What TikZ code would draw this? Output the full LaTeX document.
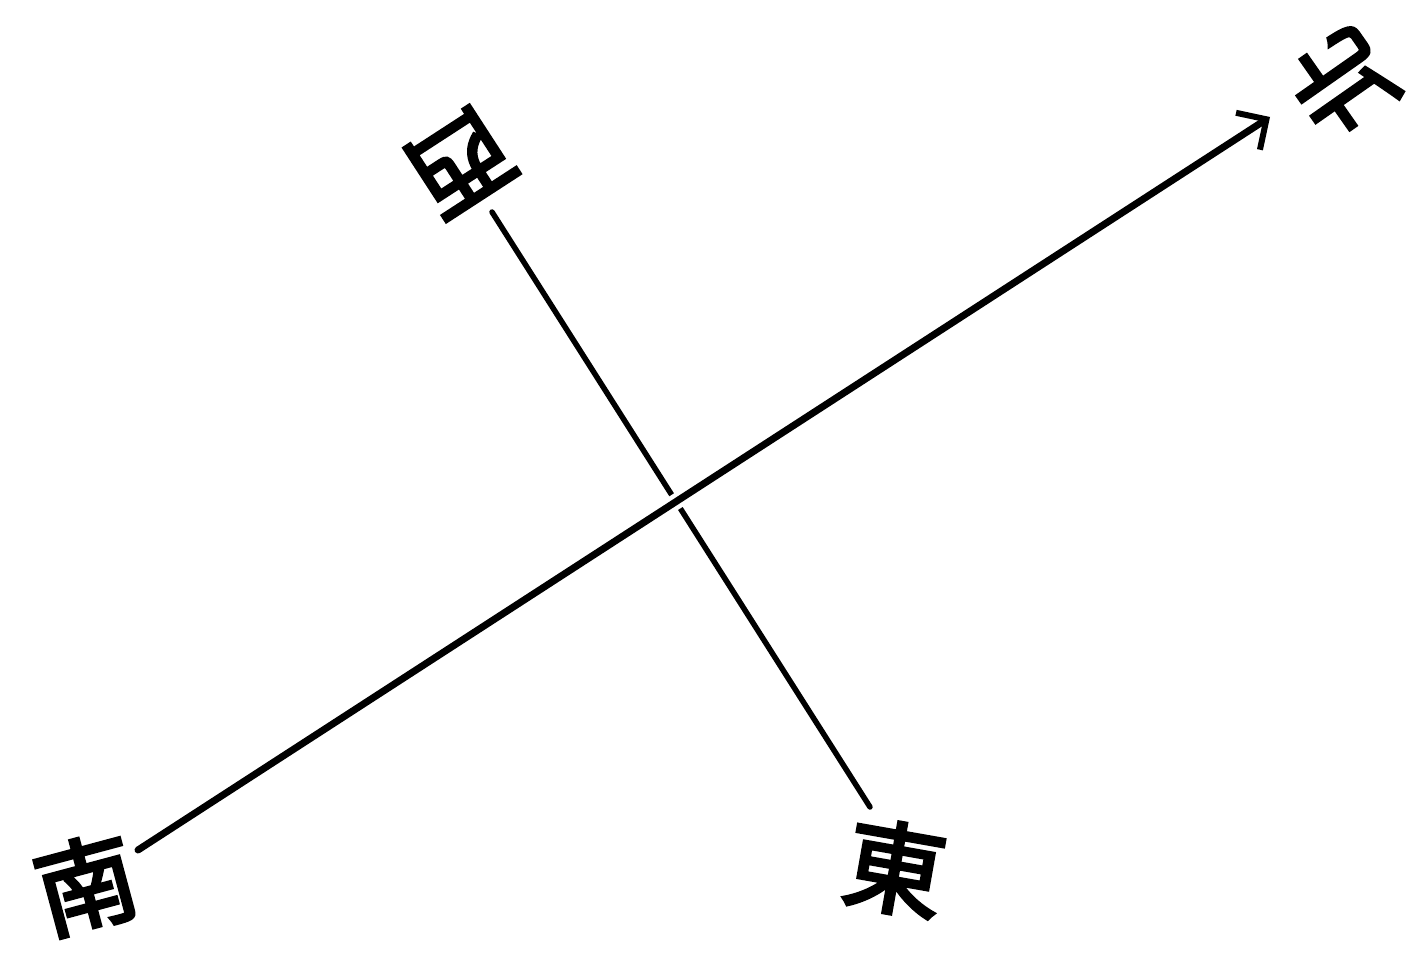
\documentclass[tikz,border=0pt]{standalone}
\usepackage{fontspec}
\newfontfamily\cjk[FakeBold=3.5]{Noto Sans CJK TC}
\usetikzlibrary{arrows.meta}
\tikzset{
  lbl/.style={inner sep=0pt, font=\cjk\fontsize{100}{100}\selectfont},
  axis/.style={line width=7pt, line cap=round},
  cross/.style={line width=5.5pt, line cap=round},
}
\begin{document}
\begin{tikzpicture}[x=1pt,y=-1pt]
\useasboundingbox (0,0) rectangle (1417,961);
% labels
\node[lbl, rotate=125] (n) at (1342,82) {北};
\node[lbl, rotate=213] (w) at (460,162) {西};
\node[lbl, rotate=15]  (s) at (86,884) {南};
\node[lbl, rotate=-10] (e) at (895,868) {東};
% axis ends
\coordinate (sEnd) at (138,850);
\coordinate (nEnd) at (1270,117);
\coordinate (wEnd) at (492,212);
\coordinate (eEnd) at (870,807);
% west-east line (under)
\draw[cross] (wEnd) -- (eEnd);
% south-north arrow (over, with a small gap)
\draw[axis, preaction={draw=white, line width=16pt, line cap=butt, shorten <=420pt, shorten >=520pt},
      -{Straight Barb[length=22pt, width=44pt, line width=6pt]}] (sEnd) -- (nEnd);
\end{tikzpicture}
\end{document}
